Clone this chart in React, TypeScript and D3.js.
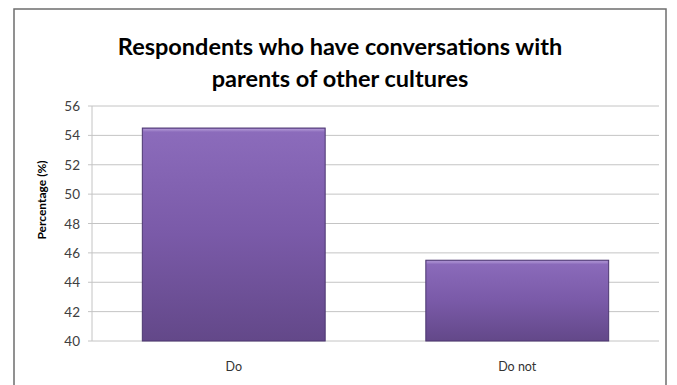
import React from "react";
import * as d3 from "d3";

const categories = ["Do", "Do not"];
const values = [54.5, 45.5];
const yTicks = [40, 42, 44, 46, 48, 50, 52, 54, 56];
const titleLines = ["Respondents who have conversations with", "parents of other cultures"];
const yAxisTitle = "Percentage (%)";

const W = 677;
const H = 385;
const plot = { left: 92, right: 659, top: 106, bottom: 341 };

export default function App() {
  const x = d3
    .scaleBand<string>()
    .domain(categories)
    .range([plot.left, plot.right])
    .paddingInner(0.355)
    .paddingOuter(0.1775);
  const y = d3.scaleLinear().domain([40, 56]).range([plot.bottom, plot.top]);
  const font = "Lato, 'Open Sans', sans-serif";

  return (
    <svg
      width={W}
      height={H}
      style={{ position: "absolute", left: 0, top: 0, background: "#fff" }}
    >
      <defs>
        <linearGradient id="barGrad" x1="0" y1="0" x2="0" y2="1">
          <stop offset="0" stopColor="#8c6cbc" />
          <stop offset="0.5" stopColor="#7a5aa8" />
          <stop offset="1" stopColor="#634889" />
        </linearGradient>
        <linearGradient id="bevel" x1="0" y1="0" x2="0" y2="1">
          <stop offset="0" stopColor="#b9a2db" />
          <stop offset="1" stopColor="#8c6cbc" />
        </linearGradient>
      </defs>
      <rect x={14} y={9} width={652} height={H} fill="#fff" stroke="#6e6e6e" strokeWidth={1.5} />
      {titleLines.map((t, i) => (
        <text
          key={i}
          x={340}
          y={55 + i * 32}
          textAnchor="middle"
          fontFamily={font}
          fontWeight="bold"
          fontSize={23.5}
          fill="#000"
        >
          {t}
        </text>
      ))}
      {yTicks.map((t) => (
        <g key={t}>
          <line
            x1={plot.left - 4}
            x2={plot.right}
            y1={y(t)}
            y2={y(t)}
            stroke="#c4c4c4"
            strokeWidth={1}
          />
          <text
            x={80}
            y={y(t) + 5}
            textAnchor="end"
            fontFamily={font}
            fontSize={13.5}
            fill="#404040"
          >
            {t}
          </text>
        </g>
      ))}
      <line x1={plot.left} x2={plot.left} y1={plot.top} y2={plot.bottom} stroke="#c4c4c4" />
      {categories.map((c, i) => {
        const bx = x(c)!;
        const bw = x.bandwidth();
        const top = y(values[i]);
        return (
          <g key={c}>
            <rect
              x={bx}
              y={top}
              width={bw}
              height={plot.bottom - top}
              fill="url(#barGrad)"
              stroke="#4c3770"
              strokeWidth={1}
            />
            <rect x={bx + 1} y={top + 1} width={bw - 2} height={3} fill="url(#bevel)" opacity={0.8} />
            <text
              x={bx + bw / 2}
              y={371}
              textAnchor="middle"
              fontFamily={font}
              fontSize={12.5}
              fill="#333"
            >
              {c}
            </text>
          </g>
        );
      })}
      <text
        transform={`translate(46, 200) rotate(-90)`}
        textAnchor="middle"
        fontFamily={font}
        fontWeight="bold"
        fontSize={12}
        fill="#000"
      >
        {yAxisTitle}
      </text>
    </svg>
  );
}
